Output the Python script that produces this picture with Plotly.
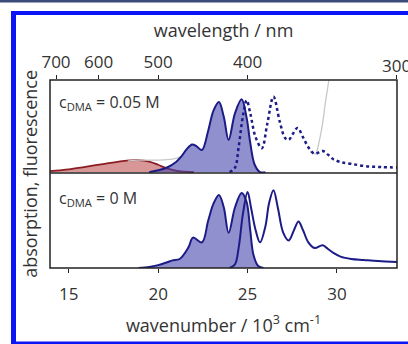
import plotly.graph_objects as go

# ---- data (wavenumber in 10^3 cm^-1, relative intensity) ----
# top panel, c_DMA = 0.05 M
red_x = [13.9, 14.5, 15.0, 16.0, 17.0, 18.0, 18.9, 19.5, 20.0, 20.5, 21.0, 21.5, 22.0]
red_y = [0.01, 0.02, 0.03, 0.06, 0.09, 0.12, 0.13, 0.115, 0.08, 0.04, 0.015, 0.005, 0.0]

em1_x = [19.5, 20.0, 20.5, 21.0, 21.3, 21.6, 21.9, 22.15, 22.45, 22.8, 23.1, 23.4, 23.67, 23.94,
         24.3, 24.67, 24.94, 25.15, 25.4, 25.7, 26.0]
em1_y = [0.0, 0.02, 0.05, 0.11, 0.17, 0.25, 0.30, 0.28, 0.24, 0.45, 0.67, 0.76, 0.60, 0.35,
         0.64, 0.79, 0.60, 0.32, 0.08, 0.0, 0.0]

abs1_x = [24.0, 24.3, 24.5, 24.75, 24.95, 25.15, 25.45, 25.8, 26.1, 26.45, 26.8, 27.1, 27.3, 27.55,
          27.8, 28.1, 28.4, 28.75, 29.2, 29.5, 29.8, 30.2, 30.8, 31.6, 32.5, 33.4]
abs1_y = [0.0, 0.05, 0.27, 0.62, 0.78, 0.64, 0.38, 0.26, 0.52, 0.82, 0.55, 0.37, 0.35, 0.42,
          0.48, 0.38, 0.27, 0.20, 0.23, 0.19, 0.14, 0.11, 0.09, 0.065, 0.055, 0.05]

gray_x = [18.3, 18.9, 19.5, 20.0, 20.5, 21.0, 21.3, None, 28.5, 28.8, 29.0, 29.2, 29.35, 29.55, 29.7]
gray_y = [0.12, 0.13, 0.13, 0.13, 0.135, 0.15, 0.17, None, 0.23, 0.20, 0.33, 0.53, 0.75, 1.0, 1.2]

# bottom panel, c_DMA = 0 M
em0_x = [18.9, 19.5, 20.0, 20.5, 20.8, 21.2, 21.7, 21.95, 22.45, 22.8, 23.1, 23.4, 23.67, 23.94,
         24.3, 24.67, 24.94, 25.15, 25.33, 25.6, 25.9]
em0_y = [0.0, 0.01, 0.03, 0.06, 0.08, 0.095, 0.22, 0.32, 0.27, 0.50, 0.68, 0.77, 0.64, 0.37,
         0.64, 0.79, 0.70, 0.40, 0.14, 0.02, 0.0]

abs0_x = [24.0, 24.3, 24.5, 24.75, 25.0, 25.2, 25.45, 25.7, 26.0, 26.2, 26.45, 26.7, 27.0, 27.3,
          27.6, 27.85, 28.1, 28.4, 28.75, 29.2, 29.5, 29.8, 30.2, 30.8, 31.5, 32.3, 33.4]
abs0_y = [0.0, 0.04, 0.21, 0.58, 0.80, 0.63, 0.40, 0.27, 0.44, 0.68, 0.82, 0.63, 0.37, 0.29,
          0.40, 0.49, 0.40, 0.27, 0.21, 0.24, 0.20, 0.16, 0.12, 0.095, 0.085, 0.074, 0.063]

wl_ticks = [700, 600, 500, 400, 300]
panel_labels = ["c<sub>DMA</sub> = 0.05 M", "c<sub>DMA</sub> = 0 M"]

NAVY = "#1c1c86"
BLUEFILL = "rgba(70,70,175,0.6)"
RED = "#8c1d24"
REDFILL = "rgba(190,80,80,0.6)"
FONT = "Open Sans"
TXT = "#333333"

fig = go.Figure()
# top panel
fig.add_trace(go.Scatter(x=red_x, y=red_y, xaxis="x", yaxis="y2", mode="lines",
                         line=dict(color=RED, width=1.8, shape="spline"),
                         fill="tozeroy", fillcolor=REDFILL, showlegend=False))
fig.add_trace(go.Scatter(x=gray_x, y=gray_y, xaxis="x", yaxis="y2", mode="lines",
                         line=dict(color="#c8c8c8", width=1.3, shape="spline"),
                         connectgaps=False, showlegend=False))
fig.add_trace(go.Scatter(x=em1_x, y=em1_y, xaxis="x", yaxis="y2", mode="lines",
                         line=dict(color=NAVY, width=2, shape="spline"),
                         fill="tozeroy", fillcolor=BLUEFILL, showlegend=False))
fig.add_trace(go.Scatter(x=abs1_x, y=abs1_y, xaxis="x", yaxis="y2", mode="lines",
                         line=dict(color=NAVY, width=2.5, dash="dot", shape="spline"),
                         showlegend=False))
# bottom panel
fig.add_trace(go.Scatter(x=em0_x, y=em0_y, xaxis="x", yaxis="y", mode="lines",
                         line=dict(color=NAVY, width=2, shape="spline"),
                         fill="tozeroy", fillcolor=BLUEFILL, showlegend=False))
fig.add_trace(go.Scatter(x=abs0_x, y=abs0_y, xaxis="x", yaxis="y", mode="lines",
                         line=dict(color=NAVY, width=2, shape="spline"),
                         showlegend=False))
# invisible trace to hold the top wavelength axis
fig.add_trace(go.Scatter(x=[20], y=[0.5], xaxis="x2", yaxis="y2", mode="markers",
                         marker=dict(opacity=0), hoverinfo="skip", showlegend=False))

XR = [13.95, 33.36]
wl_pos = [1e4 / w for w in wl_ticks]
# the last (edge) label is placed as an annotation so that it may run past the figure edge
wl_text = [str(w) for w in wl_ticks[:-1]] + [""]

fig.update_layout(
    width=408, height=344,
    margin=dict(l=50, r=11, t=80, b=76),
    paper_bgcolor="white", plot_bgcolor="white",
    font=dict(family=FONT, color=TXT, size=17),
    xaxis=dict(range=XR, anchor="y", tickvals=[15, 20, 25, 30], ticks="outside", ticklen=4,
               tickcolor="#222", showgrid=False, zeroline=False, showline=False,
               ticklabelstandoff=7, tickfont=dict(size=17),
               title=dict(text="wavenumber / 10<sup>3</sup> cm<sup>-1</sup>",
                          font=dict(size=18), standoff=14)),
    xaxis2=dict(range=XR, anchor="y2", overlaying="x", side="top",
                tickvals=wl_pos, ticktext=wl_text,
                ticks="outside", ticklen=4, tickcolor="#222", showgrid=False, zeroline=False,
                showline=False, tickfont=dict(size=17),
                title=dict(text="wavelength / nm", font=dict(size=18), standoff=7)),
    yaxis=dict(domain=[0, 0.505], range=[0, 1.0], showticklabels=False, ticks="",
               showgrid=False, zeroline=False, showline=False),
    yaxis2=dict(domain=[0.505, 1], range=[-0.01, 1.0], showticklabels=False, ticks="",
                showgrid=False, zeroline=False, showline=False),
)

fig.add_annotation(text=str(wl_ticks[-1]), xref="x", yref="paper", x=wl_pos[-1], y=1.075,
                   showarrow=False, xanchor="center", yanchor="middle",
                   font=dict(size=17, color=TXT))

# y axis title
fig.add_annotation(text="absorption, fluorescence", xref="paper", yref="paper",
                   x=-0.058, y=0.5, textangle=-90, showarrow=False,
                   font=dict(size=18, color=TXT), xanchor="center", yanchor="middle")
# panel labels
fig.add_annotation(text=panel_labels[0], xref="paper", yref="paper", x=0.02, y=0.88,
                   showarrow=False, xanchor="left", yanchor="middle",
                   font=dict(size=16, color=TXT))
fig.add_annotation(text=panel_labels[1], xref="paper", yref="paper", x=0.02, y=0.37,
                   showarrow=False, xanchor="left", yanchor="middle",
                   font=dict(size=16, color=TXT))

# frame + divider
fig.add_shape(type="rect", xref="paper", yref="paper", x0=0, x1=1, y0=0, y1=1,
              line=dict(color="#222", width=1.5), layer="above")
fig.add_shape(type="line", xref="paper", yref="paper", x0=0, x1=1, y0=0.505, y1=0.505,
              line=dict(color="#222", width=1.5), layer="above")

# outer blue border of the screenshot
def px(x):
    return (x - 50) / 347
def py(y):
    return (268 - y) / 188

BB = "#0a14f5"
fig.add_shape(type="rect", xref="paper", yref="paper", x0=px(11), x1=px(16), y0=py(344), y1=py(11),
              line=dict(width=0), fillcolor=BB, layer="above")
fig.add_shape(type="rect", xref="paper", yref="paper", x0=px(11), x1=px(420), y0=py(15), y1=py(11),
              line=dict(width=0), fillcolor=BB, layer="above")
fig.add_shape(type="rect", xref="paper", yref="paper", x0=px(11), x1=px(420), y0=py(345), y1=py(341.5),
              line=dict(width=0), fillcolor=BB, layer="above")
fig.add_shape(type="rect", xref="paper", yref="paper", x0=px(-5), x1=px(420), y0=py(2.5), y1=py(-2),
              line=dict(width=0), fillcolor="#3c4a78", layer="above")

fig.write_html("out.html", config={"displayModeBar": False},
               post_script="document.body.style.margin='0';document.body.style.overflow='hidden';")
